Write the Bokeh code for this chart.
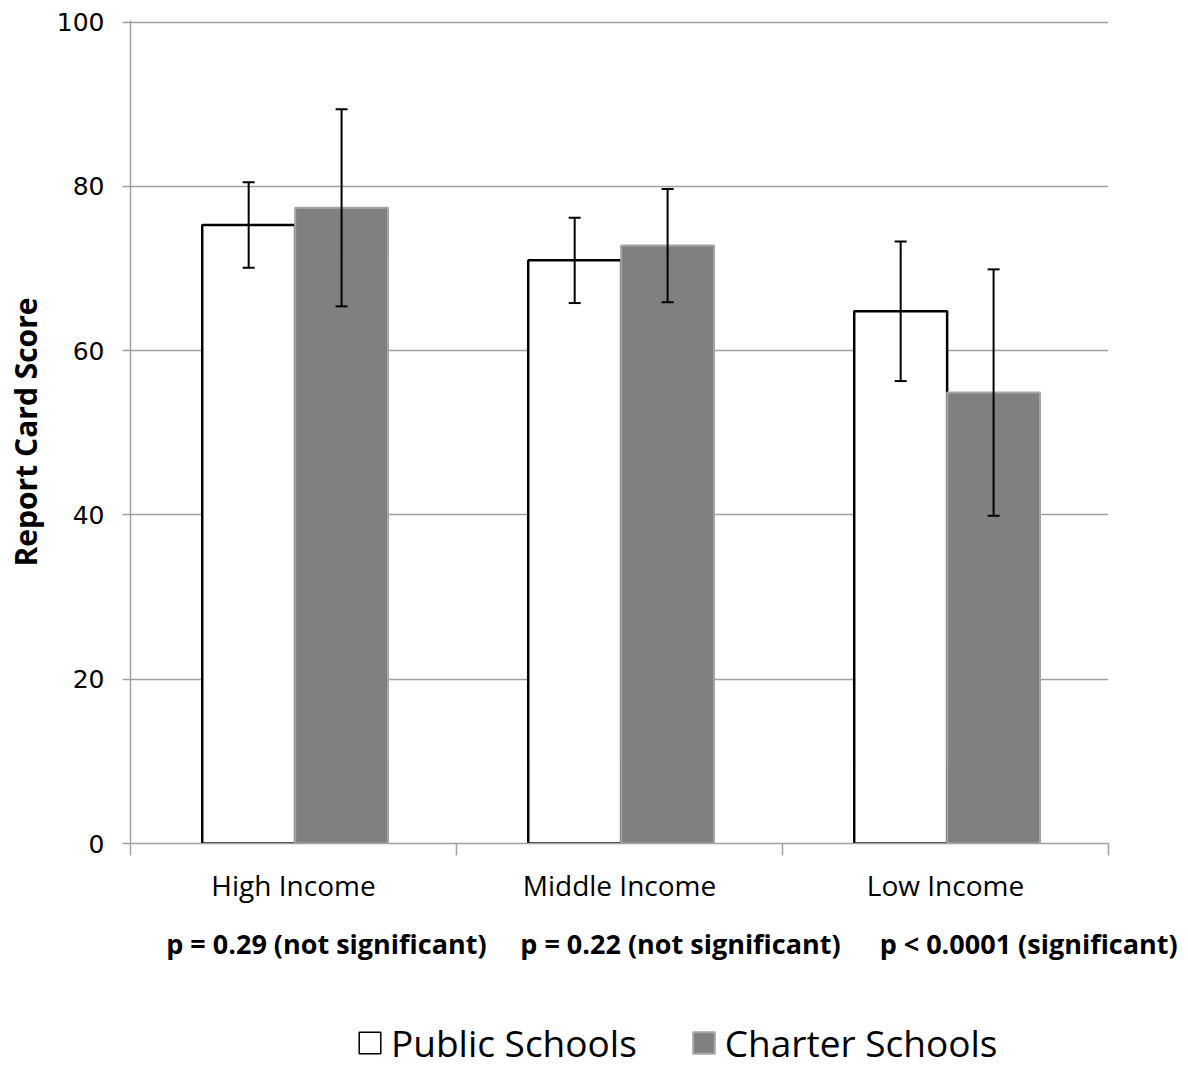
from bokeh.plotting import figure
from bokeh.layouts import column
from bokeh.models import (ColumnDataSource, FixedTicker, Whisker, TeeHead, Legend,
                          LegendItem, LinearAxis, Range1d)
from bokeh.embed import file_html
from bokeh.resources import INLINE

# ---- data ----
categories = ["High Income", "Middle Income", "Low Income"]
public_scores = [75.3, 71.0, 64.8]
public_err = [5.2, 5.2, 8.5]
charter_scores = [77.4, 72.8, 54.9]
charter_err = [12.0, 6.9, 15.0]
p_labels = ["p = 0.29 (not significant)", "p = 0.22 (not significant)", "p < 0.0001 (significant)"]
y_ticks = [0, 20, 40, 60, 80, 100]
series_names = ["Public Schools", "Charter Schools"]

# ---- layout constants ----
BAR_W = 0.285
OFFSET = 0.1425
CENTER_SHIFT = 0.005
p_label_x = [0.601, 1.687, 2.755]
GRID = "#a0a0a0"
PUB_STYLE = dict(fill_color="white", line_color="black", line_width=2.5)
CHA_STYLE = dict(fill_color="#808080", line_color="#a6a6a6", line_width=2)

centers = [i + 0.5 + CENTER_SHIFT for i in range(len(categories))]
pub = ColumnDataSource(dict(
    x=[c - OFFSET for c in centers], top=public_scores,
    upper=[v + e for v, e in zip(public_scores, public_err)],
    lower=[v - e for v, e in zip(public_scores, public_err)]))
cha = ColumnDataSource(dict(
    x=[c + OFFSET for c in centers], top=charter_scores,
    upper=[v + e for v, e in zip(charter_scores, charter_err)],
    lower=[v - e for v, e in zip(charter_scores, charter_err)]))

p = figure(width=1188, height=975, x_range=Range1d(0, len(categories)),
           y_range=Range1d(0, 100.2), output_backend="svg", toolbar_location=None,
           x_axis_location=None, min_border_left=130, min_border_right=80,
           min_border_top=20, min_border_bottom=132)
p.outline_line_color = None
p.xgrid.grid_line_color = None
p.ygrid.grid_line_color = GRID
p.ygrid.grid_line_width = 1.5
p.ygrid.ticker = FixedTicker(ticks=y_ticks)

p.vbar(x="x", top="top", width=BAR_W, bottom=0, source=pub, **PUB_STYLE)
p.vbar(x="x", top="top", width=BAR_W, bottom=0, source=cha, **CHA_STYLE)

for src in (pub, cha):
    p.add_layout(Whisker(base="x", upper="upper", lower="lower", source=src,
                         level="overlay", line_color="black", line_width=2,
                         upper_head=TeeHead(size=12, line_width=2, line_color="black"),
                         lower_head=TeeHead(size=12, line_width=2, line_color="black")))

# y axis
ya = p.yaxis[0]
ya.ticker = FixedTicker(ticks=y_ticks)
ya.axis_line_color = GRID
ya.axis_line_width = 1.5
ya.major_tick_line_color = GRID
ya.major_tick_line_width = 1.5
ya.major_tick_in = 0
ya.major_tick_out = 8
ya.minor_tick_line_color = None
ya.major_label_text_font = "DejaVu Sans"
ya.major_label_text_font_size = "25px"
ya.major_label_text_color = "black"
ya.major_label_standoff = 18
ya.axis_label = "Report Card Score"
ya.axis_label_text_font = "Open Sans"
ya.axis_label_text_font_style = "bold"
ya.axis_label_text_font_size = "30px"
ya.axis_label_text_color = "black"
ya.axis_label_standoff = 8

# x axis: category labels at centres, boundary ticks as minor ticks
xa = LinearAxis(ticker=FixedTicker(ticks=[i + 0.5 for i in range(len(categories))],
                                   minor_ticks=list(range(len(categories) + 1))))
xa.major_label_overrides = {i + 0.5: c for i, c in enumerate(categories)}
xa.axis_line_color = GRID
xa.axis_line_width = 1.5
xa.major_tick_line_color = None
xa.major_tick_out = 0
xa.major_tick_in = 0
xa.minor_tick_line_color = GRID
xa.minor_tick_line_width = 1.5
xa.minor_tick_out = 12
xa.minor_tick_in = 0
xa.major_label_text_font = "Open Sans"
xa.major_label_text_font_size = "28px"
xa.major_label_text_color = "black"
xa.major_label_standoff = 10
p.add_layout(xa, "below")

# p-value row
pa = LinearAxis(ticker=FixedTicker(ticks=p_label_x))
pa.major_label_overrides = {x: t for x, t in zip(p_label_x, p_labels)}
pa.axis_line_color = None
pa.major_tick_line_color = None
pa.minor_tick_line_color = None
pa.major_tick_out = 0
pa.major_tick_in = 0
pa.major_label_text_font = "Open Sans"
pa.major_label_text_font_style = "bold"
pa.major_label_text_font_size = "27px"
pa.major_label_text_color = "black"
pa.major_label_standoff = 18
p.add_layout(pa, "below")

# legend strip (hidden copies of the bar series provide the swatches)
lg = figure(width=1188, height=93, x_range=Range1d(0, 1), y_range=Range1d(0, 1),
            output_backend="svg", toolbar_location=None,
            x_axis_location=None, y_axis_location=None, min_border=0)
lg.outline_line_color = None
lg.grid.grid_line_color = None
l_pub = lg.vbar(x="x", top="top", width=BAR_W, bottom=0, source=pub,
                fill_color="white", line_color="black", line_width=1.5, visible=False)
l_cha = lg.vbar(x="x", top="top", width=BAR_W, bottom=0, source=cha,
                visible=False, **CHA_STYLE)
legend = Legend(items=[LegendItem(label=series_names[0], renderers=[l_pub]),
                       LegendItem(label=series_names[1], renderers=[l_cha])],
                orientation="horizontal", location=(226, 0),
                border_line_color=None, background_fill_alpha=0,
                inactive_fill_alpha=0,
                label_text_font="Open Sans", label_text_font_size="37px",
                label_text_color="black",
                glyph_width=27, glyph_height=27, label_standoff=8, spacing=53,
                margin=0, padding=0)
lg.add_layout(legend, "center")

layout = column(p, lg, spacing=0)
open("out.html", "w").write(file_html(layout, INLINE))
